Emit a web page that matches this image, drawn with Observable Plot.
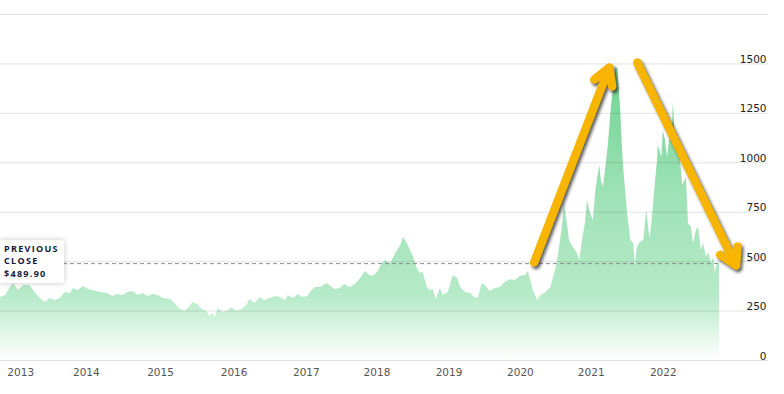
<!DOCTYPE html>
<html>
<head>
<meta charset="utf-8">
<script src="https://cdn.jsdelivr.net/npm/d3@7"></script>
<script src="https://cdn.jsdelivr.net/npm/@observablehq/plot@0.6"></script>
<style>
  html, body { margin: 0; padding: 0; background: #fff; }
  #wrap { position: relative; width: 784px; height: 394px; overflow: hidden; }
  #closeBox {
    position: absolute; left: 0; width: 60px; height: 40px;
    padding: 3px 0 0 4px; background: #fff;
    box-shadow: 0 0 6px rgba(0,0,0,0.22);
    font-family: "Open Sans", sans-serif; font-weight: 700; font-size: 9px;
    line-height: 12.2px; letter-spacing: 1.3px; color: #16183a;
  }
</style>
</head>
<body>
<div id="wrap"></div>
<script>
// ---- data (decimal years, price) ----
const years = [2012.81, 2012.88, 2012.95, 2012.99, 2013.06, 2013.13, 2013.22, 2013.29, 2013.36, 2013.43,
  2013.50, 2013.57, 2013.64, 2013.71, 2013.78, 2013.82, 2013.89, 2013.96, 2014.03, 2014.10,
  2014.19, 2014.29, 2014.37, 2014.44, 2014.51, 2014.58, 2014.65, 2014.72, 2014.79, 2014.86,
  2014.93, 2015.00, 2015.07, 2015.17, 2015.23, 2015.30, 2015.37, 2015.44, 2015.48, 2015.55,
  2015.61, 2015.68, 2015.71, 2015.75, 2015.79, 2015.83, 2015.90, 2015.97, 2016.02, 2016.09,
  2016.16, 2016.23, 2016.27, 2016.34, 2016.41, 2016.48, 2016.55, 2016.62, 2016.69, 2016.76,
  2016.80, 2016.87, 2016.94, 2017.00, 2017.07, 2017.13, 2017.18, 2017.25, 2017.34, 2017.41,
  2017.45, 2017.52, 2017.58, 2017.66, 2017.73, 2017.80, 2017.87, 2017.91, 2017.97, 2018.04,
  2018.08, 2018.15, 2018.22, 2018.29, 2018.36, 2018.40, 2018.45, 2018.49, 2018.54, 2018.59,
  2018.63, 2018.67, 2018.73, 2018.77, 2018.81, 2018.85, 2018.91, 2018.95, 2019.02, 2019.09,
  2019.15, 2019.19, 2019.26, 2019.33, 2019.40, 2019.44, 2019.49, 2019.53, 2019.60, 2019.67,
  2019.74, 2019.81, 2019.88, 2019.95, 2020.02, 2020.09, 2020.13, 2020.20, 2020.26, 2020.30,
  2020.37, 2020.44, 2020.48, 2020.53, 2020.60, 2020.63, 2020.67, 2020.70, 2020.75, 2020.81,
  2020.84, 2020.88, 2020.92, 2020.95, 2020.99, 2021.03, 2021.06, 2021.09, 2021.12, 2021.14,
  2021.17, 2021.21, 2021.24, 2021.28, 2021.31, 2021.34, 2021.37, 2021.39, 2021.41, 2021.43,
  2021.45, 2021.48, 2021.50, 2021.55, 2021.59, 2021.61, 2021.64, 2021.68, 2021.73, 2021.77,
  2021.80, 2021.82, 2021.85, 2021.89, 2021.92, 2021.93, 2021.98, 2022.00, 2022.03, 2022.06,
  2022.09, 2022.13, 2022.14, 2022.17, 2022.20, 2022.24, 2022.27, 2022.29, 2022.32, 2022.35,
  2022.39, 2022.42, 2022.46, 2022.49, 2022.53, 2022.56, 2022.60, 2022.63, 2022.67, 2022.70,
  2022.72, 2022.75, 2022.78];
const prices = [319, 329, 369, 389, 354, 379, 379, 344, 314, 293,
  314, 303, 314, 344, 339, 364, 354, 374, 359, 354,
  344, 339, 324, 334, 329, 344, 349, 329, 339, 324,
  334, 329, 314, 309, 288, 260, 248, 273, 293, 283,
  258, 248, 223, 238, 217, 263, 243, 253, 268, 248,
  258, 278, 309, 288, 319, 303, 314, 324, 319, 303,
  329, 314, 334, 319, 324, 354, 369, 369, 389, 369,
  359, 364, 384, 369, 384, 413, 450, 435, 425, 445,
  475, 506, 491, 541, 582, 622, 592, 561, 521, 465,
  440, 445, 369, 354, 359, 309, 364, 329, 344, 430,
  415, 369, 344, 339, 314, 319, 389, 379, 349, 364,
  369, 395, 408, 405, 425, 430, 450, 354, 303, 329,
  344, 369, 420, 491, 673, 800, 693, 607, 571, 541,
  506, 607, 693, 809, 743, 708, 845, 926, 986, 910,
  875, 996, 1098, 1280, 1381, 1482, 1477, 1366, 1265, 1100,
  976, 845, 759, 607, 592, 480, 571, 597, 607, 759,
  658, 617, 723, 895, 1012, 1087, 1027, 1163, 1113, 1027,
  1128, 1199, 1305, 1113, 1098, 1012, 885, 900, 926, 693,
  673, 592, 658, 673, 556, 592, 521, 546, 491, 521,
  445, 491, 490];

const xDomainYears = [2012.81, 2022.78];
const xTickYears = [2013.09, 2014.0, 2015.03, 2016.05, 2017.05, 2018.03, 2019.03, 2020.02, 2021.0, 2022.0];
const xTickLabels = ["2013", "2014", "2015", "2016", "2017", "2018", "2019", "2020", "2021", "2022"];
const yTicks = [0, 250, 500, 750, 1000, 1250, 1500];
const gridValues = [250, 500, 750, 1000, 1250, 1500, 1750];
const yMax = 1750;
const previousClose = 489.90;
const closeLines = ["PREVIOUS", "CLOSE", "$489.90"];

// annotation arrows (start year, start value, end year, end value)
const arrowStartYears = [2020.21, 2021.64];
const arrowStartValues = [496, 1507];
const arrowEndYears = [2021.25, 2023.01];
const arrowEndValues = [1482, 480];

// ---- helpers ----
function toDate(t) {
  const y = Math.floor(t);
  const s = Date.UTC(y, 0, 1), e = Date.UTC(y + 1, 0, 1);
  return new Date(s + (t - y) * (e - s));
}
const series = years.map((t, i) => ({date: toDate(t), price: prices[i]}));
const xTicks = xTickYears.map((t, i) => ({date: toDate(t), label: xTickLabels[i]}));
const arrows = arrowStartYears.map((t, i) => ({
  x1: toDate(t), y1: arrowStartValues[i], x2: toDate(arrowEndYears[i]), y2: arrowEndValues[i]
}));

const arrowOpts = {x1: "x1", y1: "y1", x2: "x2", y2: "y2", strokeWidth: 8.5, headLength: 3.4,
  headAngle: 60, strokeLinecap: "round", strokeLinejoin: "round"};

const plot = Plot.plot({
  width: 784,
  height: 394,
  marginLeft: 0,
  marginRight: 65,
  marginTop: 14,
  marginBottom: 34,
  x: {type: "utc", domain: xDomainYears.map(toDate), axis: null},
  y: {domain: [0, yMax], axis: null},
  style: {fontFamily: "DejaVu Sans, sans-serif", background: "#fff", overflow: "visible"},
  marks: [
    Plot.areaY(series, {x: "date", y: "price", fill: "url(#priceGrad)", curve: "linear"}),
    Plot.ruleY(gridValues, {stroke: "#000", strokeOpacity: 0.11, insetRight: -49}),
    Plot.ruleY([0], {stroke: "#000", strokeOpacity: 0.13, insetRight: -49}),
    Plot.ruleY([previousClose], {stroke: "#8a8a8a", strokeDasharray: "4,3", strokeWidth: 1}),
    Plot.text(yTicks, {y: d => d, text: d => String(d), frameAnchor: "right", textAnchor: "end",
      lineAnchor: "bottom", dx: 47, dy: -1, fontSize: 10.5, fill: "#222"}),
    Plot.text(xTicks, {x: "date", text: "label", frameAnchor: "bottom", lineAnchor: "top",
      dy: 8, fontSize: 10.5, fill: "#555"}),
    Plot.arrow(arrows, {...arrowOpts, stroke: "#1a1a1a", strokeOpacity: 0.7, dx: 2, dy: 2.5}),
    Plot.arrow(arrows, {...arrowOpts, stroke: "#f7b500"})
  ]
});

// gradient + shadow filter
const svg = d3.select(plot);
const defs = svg.insert("defs", ":first-child");
const grad = defs.append("linearGradient").attr("id", "priceGrad")
  .attr("x1", 0).attr("y1", 0).attr("x2", 0).attr("y2", 1);
[[0, "#6fd392"], [0.45, "#9fe2b6"], [0.78, "#b6eac8"], [1, "#ffffff"]].forEach(([o, c]) =>
  grad.append("stop").attr("offset", o).attr("stop-color", c));
defs.append("filter").attr("id", "arrowShadow").attr("x", "-20%").attr("y", "-20%")
  .attr("width", "140%").attr("height", "140%")
  .append("feGaussianBlur").attr("stdDeviation", 1.6);
const arrowGroups = plot.querySelectorAll('g[aria-label="arrow"]');
if (arrowGroups.length) arrowGroups[0].setAttribute("filter", "url(#arrowShadow)");

const wrap = document.getElementById("wrap");
wrap.appendChild(plot);

// previous close label box, positioned by the y scale
const yPos = plot.scale("y").apply(previousClose);
const box = document.createElement("div");
box.id = "closeBox";
box.style.top = (yPos - 23) + "px";
box.innerHTML = closeLines.join("<br>");
wrap.appendChild(box);
</script>
</body>
</html>
